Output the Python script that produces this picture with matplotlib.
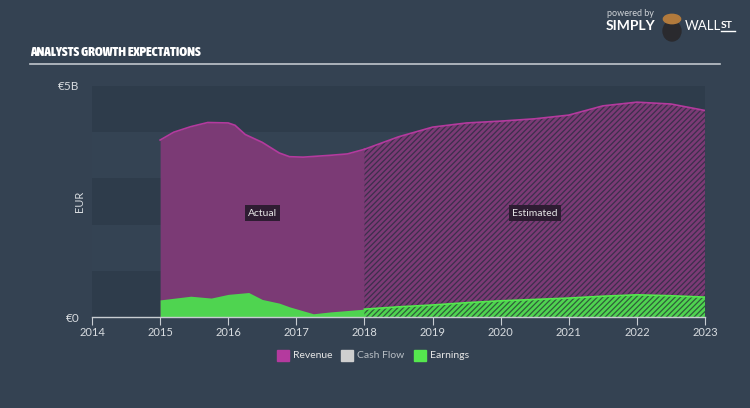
import numpy as np
import matplotlib
matplotlib.use("Agg")
import matplotlib.pyplot as plt
from matplotlib import font_manager
from matplotlib.patches import Rectangle, Circle, Ellipse

# actual (reported) values, billions EUR
yr_act = [2015.0, 2015.2, 2015.45, 2015.7, 2016.0, 2016.1, 2016.25, 2016.5,
          2016.75, 2016.9, 2017.1, 2017.5, 2017.75, 2018.0]
rev_act = [3.83, 4.00, 4.12, 4.21, 4.20, 4.15, 3.95, 3.78,
           3.55, 3.47, 3.46, 3.50, 3.53, 3.63]
yr_earn_act = [2015.0, 2015.45, 2015.75, 2016.0, 2016.3, 2016.5, 2016.75,
               2016.9, 2017.25, 2017.5, 2018.0]
earn_act = [0.37, 0.45, 0.41, 0.49, 0.53, 0.38, 0.30, 0.22, 0.07, 0.11, 0.17]

# analyst estimates
yr_est = [2018.0, 2018.5, 2019.0, 2019.5, 2020.0, 2020.5, 2021.0, 2021.5,
          2022.0, 2022.5, 2023.0]
rev_est = [3.63, 3.90, 4.11, 4.20, 4.24, 4.29, 4.37, 4.57, 4.65, 4.61, 4.47]
earn_est = [0.17, 0.22, 0.26, 0.31, 0.35, 0.38, 0.41, 0.45, 0.48, 0.46, 0.43]

years = list(range(2014, 2024))
legend_names = ["Revenue", "Cash Flow", "Earnings"]

BG = "#344252"
REV_FILL = "#7b3a75"
REV_LINE = "#b43a9e"
EARN_FILL = "#4fd450"
EARN_LINE = "#55e84e"
TXT = "#d8dce0"

plt.rcParams["font.family"] = ["Lato", "DejaVu Sans"]
plt.rcParams["hatch.linewidth"] = 0.9

# look for any narrow/condensed bold face for the title
title_prop = font_manager.FontProperties(family="DejaVu Sans", weight="bold", size=8.2)
narrow = []
for f in font_manager.fontManager.ttflist:
    tag = (f.name + " " + str(f.fname)).lower()
    if ("narrow" in tag or "condensed" in tag or "cond" in str(f.stretch)) \
            and "italic" not in tag and f.style == "normal":
        narrow.append(f)
narrow.sort(key=lambda f: (-(f.weight if isinstance(f.weight, int) else 400),
                           "extra" in f.fname.lower() or "semi" in f.fname.lower()))
if narrow:
    title_prop = font_manager.FontProperties(fname=narrow[0].fname, size=9.5)

fig = plt.figure(figsize=(7.5, 4.08), dpi=100, facecolor=BG)
ax = fig.add_axes([92 / 750, 1 - 317 / 408, (705 - 92) / 750, (317 - 86) / 408])
ax.set_facecolor(BG)
ax.set_xlim(2014, 2023)
ax.set_ylim(0, 5)

# alternating background bands
for i in range(5):
    ax.axhspan(i, i + 1, color="#2e3c4b" if i % 2 == 0 else "#344353", lw=0, zorder=0)

# actual
ax.fill_between(yr_act, rev_act, color=REV_FILL, lw=0, zorder=2)
ax.plot(yr_act, rev_act, color=REV_LINE, lw=1.2, zorder=3)
ax.fill_between(yr_earn_act, earn_act, color=EARN_FILL, lw=0, zorder=4)

# estimated (hatched)
ax.fill_between(yr_est, rev_est, facecolor=REV_FILL, edgecolor="#3c2f4c",
                hatch="//////", lw=0, zorder=2)
ax.plot(yr_est, rev_est, color=REV_LINE, lw=1.2, zorder=3)
ax.fill_between(yr_est, earn_est, facecolor=EARN_FILL, edgecolor="#2f5e3a",
                hatch="//////", lw=0, zorder=4)
ax.plot(yr_est, earn_est, color=EARN_LINE, lw=1.2, zorder=5)

for s in ["top", "right", "left"]:
    ax.spines[s].set_visible(False)
ax.spines["bottom"].set_color("#c8cdd2")
ax.spines["bottom"].set_linewidth(1)
ax.spines["bottom"].set_zorder(6)
ax.set_xticks(years)
ax.set_xticklabels([str(y) for y in years], fontsize=8, color=TXT)
ax.tick_params(axis="x", length=6, color="#c8cdd2", pad=1)
ax.set_yticks([0, 5])
ax.set_yticklabels(["€0", "€5B"], fontsize=8.5, color=TXT)
ax.tick_params(axis="y", length=0, pad=9)
ax.set_ylabel("EUR", fontsize=8, color=TXT)
ax.yaxis.set_label_coords(-0.012, 0.5)

ax.text(2016.5, 2.25, "Actual", fontsize=7.5, color="#e6e6e6", ha="center", va="center",
        zorder=7, bbox=dict(boxstyle="square,pad=0.3", fc="#2e1c32", ec="none"))
ax.text(2020.5, 2.25, "Estimated", fontsize=7.5, color="#e6e6e6", ha="center", va="center",
        zorder=7, bbox=dict(boxstyle="square,pad=0.3", fc="#2e1c32", ec="none"))

# title and rule
fig.text(30 / 750, 1 - 53 / 408, "ANALYSTS GROWTH EXPECTATIONS", fontproperties=title_prop,
         fontweight="bold", color="white", va="center")
fig.add_artist(plt.Line2D([30 / 750, 720 / 750], [1 - 63.5 / 408] * 2,
                          color="#c0c6cc", lw=1.2))

# logo
fig.text(607 / 750, 1 - 14 / 408, "powered by", fontsize=6.5, color="#d0d4d8", va="center")
fig.text(606 / 750, 1 - 26 / 408, "SIMPLY", fontsize=10, fontweight="bold",
         color="white", va="center")
fig.add_artist(Ellipse((672 / 750, 1 - 31 / 408), 18 / 750, 20 / 408,
                       transform=fig.transFigure, color="#2a2a2e"))
fig.add_artist(Circle((672 / 750, 1 - 19 / 408), 0.0115,
                      transform=fig.transFigure, color="#b27a3c"))
fig.text(685 / 750, 1 - 26 / 408, "WALL", fontsize=9.5, color="white", va="center")
fig.text(721 / 750, 1 - 25 / 408, "ST", fontsize=7.5, fontweight="bold",
         color="white", va="center")
fig.add_artist(plt.Line2D([721 / 750, 735 / 750], [1 - 31 / 408] * 2,
                          color="white", lw=1))

# legend
leg_colors = [REV_LINE, "#cfcfcf", EARN_LINE]
leg_x = [277, 341, 414]
for name, c, x in zip(legend_names, leg_colors, leg_x):
    fig.add_artist(Rectangle((x / 750, 1 - 361 / 408), 12 / 750, 11 / 408,
                             transform=fig.transFigure, color=c))
    fig.text((x + 16) / 750, 1 - 356 / 408, name, fontsize=7.5,
             color="#e6e6e6" if name != "Cash Flow" else "#b8bec4", va="center")

fig.savefig("out.png", dpi=100, facecolor=BG)
